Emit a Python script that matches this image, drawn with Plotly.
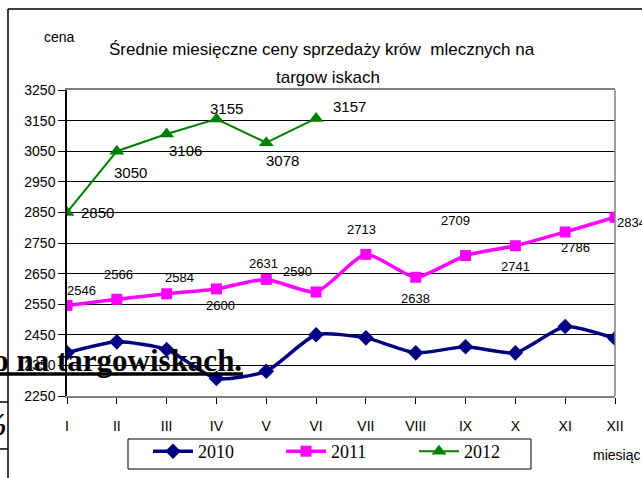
import plotly.graph_objects as go

# data
months = ['I', 'II', 'III', 'IV', 'V', 'VI', 'VII', 'VIII', 'IX', 'X', 'XI', 'XII']
ceny_2010 = [2391, 2427, 2402, 2307, 2331, 2450, 2440, 2391, 2411, 2391, 2477, 2438]
ceny_2011 = [2546, 2566, 2584, 2600, 2631, 2590, 2713, 2638, 2709, 2741, 2786, 2834]
ceny_2012 = [2850, 3050, 3106, 3155, 3078, 3157]
y_ticks = list(range(2250, 3251, 100))

# label offsets (px) for data labels
off_2011 = [(14, 15), (2, 25), (13, 16), (4, -17), (-3, 16), (-19, 20),
            (-4, 25), (0, -21), (-10, 35), (0, -21), (10, -16), (16, -5)]
off_2012 = [(30, 0), (14, -21), (19, -16), (10, 11), (16, -18), (33, 12)]

# plot area in pixels
L, R, T, B = 67, 615, 90, 396


def px(x):
    return (x - L) / (R - L)


def py(y):
    return (B - y) / (B - T)


fig = go.Figure()

fig.add_trace(go.Scatter(
    x=months, y=ceny_2010, name='2010', mode='lines+markers',
    line=dict(color='#000080', width=3.5, shape='spline', smoothing=0.6),
    marker=dict(symbol='diamond', size=12, color='#000080'),
))
fig.add_trace(go.Scatter(
    x=months, y=ceny_2011, name='2011', mode='lines+markers',
    line=dict(color='#FF00FF', width=3.5, shape='spline', smoothing=0.6),
    marker=dict(symbol='square', size=11, color='#FF00FF'),
))
fig.add_trace(go.Scatter(
    x=months[:len(ceny_2012)], y=ceny_2012, name='2012', mode='lines+markers',
    line=dict(color='#008000', width=2),
    marker=dict(symbol='triangle-up', size=13, color='#008000'),
))

annotations = []
for m, v, (dx, dy) in zip(months, ceny_2011, off_2011):
    annotations.append(dict(x=m, y=v, xref='x', yref='y', text=str(v), showarrow=False,
                            xshift=dx, yshift=dy,
                            font=dict(family='Liberation Sans', size=13, color='black')))
for m, v, (dx, dy) in zip(months, ceny_2012, off_2012):
    annotations.append(dict(x=m, y=v, xref='x', yref='y', text=str(v), showarrow=False,
                            xshift=dx, yshift=dy,
                            font=dict(family='Liberation Sans', size=15, color='black')))

# titles and axis captions
annotations += [
    dict(x=px(322), y=py(38), xref='paper', yref='paper', showarrow=False,
         text='Średnie miesięczne ceny sprzedaży krów  mlecznych na',
         font=dict(family='Liberation Sans', size=17, color='black')),
    dict(x=px(328), y=py(66), xref='paper', yref='paper', showarrow=False,
         text='targow iskach',
         font=dict(family='Liberation Sans', size=17, color='black')),
    dict(x=px(42), y=py(27), xref='paper', yref='paper', showarrow=False,
         text='cena', font=dict(family='Liberation Sans', size=14, color='black')),
    dict(x=px(591), y=py(465), xref='paper', yref='paper', showarrow=False,
         xanchor='left', text='miesiąc',
         font=dict(family='Liberation Sans', size=14, color='black')),
    # stray text from the underlying document
    dict(x=px(244), y=py(380), xref='paper', yref='paper', showarrow=False,
         xanchor='right', text='<b>ko na targowiskach.</b>',
         font=dict(family='Liberation Serif', size=31, color='black')),
    dict(x=px(9), y=py(444), xref='paper', yref='paper', showarrow=False,
         xanchor='right', text='<b><i>%</i></b>',
         font=dict(family='Liberation Serif', size=32, color='black')),
]

line_black = dict(color='black', width=1.5)
shapes = [
    dict(type='line', xref='paper', yref='paper', x0=px(8), x1=px(642), y0=py(9), y1=py(9), line=line_black),
    dict(type='line', xref='paper', yref='paper', x0=px(8), x1=px(8), y0=py(9), y1=py(478), line=line_black),
    dict(type='line', xref='paper', yref='paper', x0=px(0), x1=px(8), y0=py(402), y1=py(402), line=line_black),
    dict(type='line', xref='paper', yref='paper', x0=px(0), x1=px(8), y0=py(449), y1=py(449), line=line_black),
    dict(type='line', xref='paper', yref='paper', x0=px(0), x1=px(243), y0=py(374), y1=py(374),
         line=dict(color='black', width=3.5)),
    dict(type='line', xref='paper', yref='paper', x0=1, x1=1, y0=0, y1=1,
         line=dict(color='#808080', width=1.5)),
    # legend frame
    dict(type='rect', xref='paper', yref='paper', x0=px(128), x1=px(531), y0=py(439), y1=py(469),
         line=dict(color='black', width=1)),
]

fig.update_layout(
    width=642, height=478,
    margin=dict(l=L, r=642 - R, t=T, b=478 - B, autoexpand=False),
    paper_bgcolor='white', plot_bgcolor='white',
    font=dict(family='Liberation Sans', color='black'),
    showlegend=True,
    legend=dict(
        orientation='h', x=px(148), y=py(433), xanchor='left', yanchor='top',
        borderwidth=0, bgcolor='rgba(0,0,0,0)', entrywidth=78,
        font=dict(family='Liberation Serif', size=18, color='black'),
        itemwidth=40,
    ),
    annotations=annotations,
    shapes=shapes,
)
fig.update_xaxes(
    type='category', categoryorder='array', categoryarray=months,
    range=[0, 11], showgrid=False, automargin=False,
    showline=True, linecolor='#808080', linewidth=1.5, mirror=True,
    ticks='outside', ticklen=6, tickcolor='black',
    ticklabelstandoff=10,
    tickfont=dict(family='Liberation Sans', size=14, color='black'),
)
fig.update_yaxes(
    range=[2250, 3250], tickvals=y_ticks, automargin=False,
    showgrid=True, gridcolor='black', gridwidth=1,
    showline=True, linecolor='black', linewidth=1.5,
    ticks='outside', ticklen=7, tickcolor='black',
    tickfont=dict(family='Liberation Sans', size=14, color='black'),
)

fig.write_html("out.html", config={'displayModeBar': False},
               post_script="document.body.style.margin='0';")
